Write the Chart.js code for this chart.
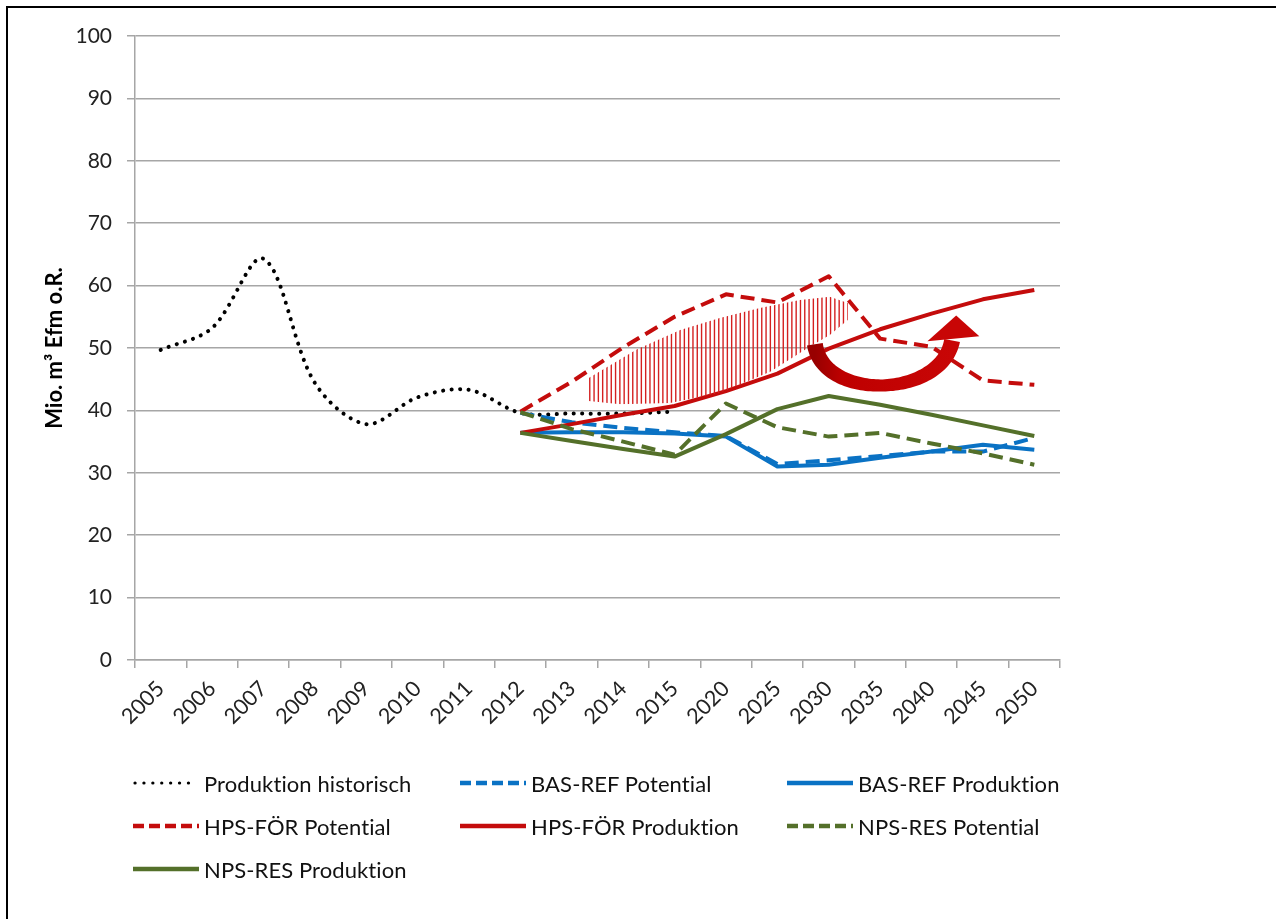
<!DOCTYPE html>
<html>
<head>
<meta charset="utf-8">
<script src="https://cdn.jsdelivr.net/npm/chart.js@4.4.1/dist/chart.umd.min.js"></script>
<style>
  html, body { margin: 0; padding: 0; background: #ffffff; }
  #wrap { position: relative; width: 1276px; height: 919px; overflow: hidden; background: #fff; }
  #frame { position: absolute; left: 6px; top: 6px; width: 1400px; height: 1000px;
           border-left: 2px solid #000; border-top: 2px solid #000; box-sizing: border-box; pointer-events: none; }
  #chart { position: absolute; left: 0; top: 0; }
  .leg { position: absolute; display: flex; align-items: center; height: 30px; margin-top: -15px;
         font-family: Lato, "Open Sans", sans-serif; font-size: 22px; letter-spacing: 0.1px; color: #111; white-space: nowrap; }
  .leg svg { margin-right: 5px; }
</style>
</head>
<body>
<div id="wrap">
  <canvas id="chart" width="1276" height="919"></canvas>
  <div id="frame"></div>
  <div id="legend"></div>
</div>
<script>
// ---------- data ----------
const categories = ['2005','2006','2007','2008','2009','2010','2011','2012','2013','2014','2015','2020','2025','2030','2035','2040','2045','2050'];
const produktionHistorisch = [49.7, 53.2, 64.3, 44.4, 37.8, 42.1, 43.3, 39.6, 39.5, 39.5, 39.8, null, null, null, null, null, null, null];
const basRefPotential  = [null, null, null, null, null, null, null, 39.6, 38.1, 37.2, 36.5, 35.9, 31.4, 32.0, 32.7, 33.4, 33.4, 35.6];
const basRefProduktion = [null, null, null, null, null, null, null, 36.4, 36.5, 36.5, 36.3, 35.8, 31.0, 31.3, 32.4, 33.4, 34.5, 33.7];
const hpsFoerPotential  = [null, null, null, null, null, null, null, 39.8, 44.6, 50.1, 55.0, 58.6, 57.3, 61.5, 51.5, 50.2, 44.8, 44.1];
const hpsFoerProduktion = [null, null, null, null, null, null, null, 36.4, 37.8, 39.3, 40.7, 43.1, 45.9, 49.9, 53.0, 55.5, 57.8, 59.3];
const npsResPotential  = [null, null, null, null, null, null, null, 39.7, 37.0, 35.0, 32.9, 41.1, 37.3, 35.8, 36.4, 34.7, 33.1, 31.3];
const npsResProduktion = [null, null, null, null, null, null, null, 36.4, 35.1, 33.8, 32.6, 36.2, 40.2, 42.3, 40.9, 39.3, 37.6, 35.9];
const yTicks = [0, 10, 20, 30, 40, 50, 60, 70, 80, 90, 100];
const yTitle = 'Mio. m³ Efm o.R.';

// annotation shapes in data units [category index, value]
const hatchPolygon = [[8.33,45.2],[9.27,49.8],[10.11,52.9],[10.88,54.8],[11.66,56.4],[12.44,57.7],[13.02,58.2],[13.37,57.2],
                      [13.37,54.5],[13.02,52.1],[12.63,50.2],[11.86,46.2],[10.88,42.8],[9.91,41.2],[8.94,41.0],[8.33,41.5]];
const arrowCurve = [[12.73,50.6],[12.90,41.4],[15.20,42.0],[15.40,51.2]];
const arrowHead = [[15.48,55.2],[14.92,51.1],[15.93,51.9]];
const arrowWidth = [16, 12, 16];   // px at tail, middle, head end

// ---------- styles ----------
const RED = '#C40C0C', BLUE = '#0A72C4', GREEN = '#54702A', BLACK = '#000000';
const FONT = 'Lato, "Open Sans", sans-serif';

const seriesDefs = [
  { label: 'Produktion historisch', data: produktionHistorisch, color: BLACK, dash: [0.1, 8.4], cap: 'round', width: 4, tension: 0.33 },
  { label: 'BAS-REF Potential',  data: basRefPotential,  color: BLUE,  dash: [14, 7], cap: 'butt', width: 4, tension: 0 },
  { label: 'BAS-REF Produktion', data: basRefProduktion, color: BLUE,  dash: [],      cap: 'butt', width: 4, tension: 0 },
  { label: 'HPS-FÖR Potential',  data: hpsFoerPotential,  color: RED,   dash: [14, 7], cap: 'butt', width: 4, tension: 0 },
  { label: 'HPS-FÖR Produktion', data: hpsFoerProduktion, color: RED,   dash: [],      cap: 'butt', width: 4, tension: 0 },
  { label: 'NPS-RES Potential',  data: npsResPotential,  color: GREEN, dash: [14, 7], cap: 'butt', width: 4, tension: 0 },
  { label: 'NPS-RES Produktion', data: npsResProduktion, color: GREEN, dash: [],      cap: 'butt', width: 4, tension: 0 }
];

const datasets = seriesDefs.map((s, i) => ({
  label: s.label, data: s.data,
  borderColor: s.color, backgroundColor: s.color,
  borderWidth: s.width, borderDash: s.dash, borderCapStyle: s.cap, borderJoinStyle: 'round',
  tension: s.tension, pointRadius: 0, pointHoverRadius: 0, fill: false, spanGaps: false,
  order: seriesDefs.length - i
}));

// ---------- annotation plugin ----------
const annotationPlugin = {
  id: 'shapes',
  afterDatasetsDraw(chart) {
    const ctx = chart.ctx, xs = chart.scales.x, ys = chart.scales.y;
    const P = p => [xs.getPixelForValue(p[0]), ys.getPixelForValue(p[1])];
    // hatched area
    const poly = hatchPolygon.map(P);
    let minX = Infinity, maxX = -Infinity, minY = Infinity, maxY = -Infinity;
    poly.forEach(([x, y]) => { minX = Math.min(minX, x); maxX = Math.max(maxX, x); minY = Math.min(minY, y); maxY = Math.max(maxY, y); });
    ctx.save();
    ctx.beginPath();
    poly.forEach(([x, y], i) => i ? ctx.lineTo(x, y) : ctx.moveTo(x, y));
    ctx.closePath();
    ctx.clip();
    ctx.strokeStyle = '#D42020';
    ctx.lineWidth = 1.4;
    ctx.beginPath();
    for (let x = minX + 1; x <= maxX; x += 4.3) { ctx.moveTo(x, minY); ctx.lineTo(x, maxY); }
    ctx.stroke();
    ctx.restore();

    // curved arrow with varying body width
    const c = arrowCurve.map(P);
    const bez = (t) => {
      const u = 1 - t;
      return [u*u*u*c[0][0] + 3*u*u*t*c[1][0] + 3*u*t*t*c[2][0] + t*t*t*c[3][0],
              u*u*u*c[0][1] + 3*u*u*t*c[1][1] + 3*u*t*t*c[2][1] + t*t*t*c[3][1]];
    };
    const N = 80, left = [], right = [];
    for (let k = 0; k <= N; k++) {
      const t = k / N;
      const a = bez(Math.max(0, t - 0.005)), b = bez(Math.min(1, t + 0.005));
      let dx = b[0] - a[0], dy = b[1] - a[1];
      const len = Math.hypot(dx, dy) || 1; dx /= len; dy /= len;
      const w = (t < 0.5 ? arrowWidth[0] + (arrowWidth[1] - arrowWidth[0]) * t * 2
                         : arrowWidth[1] + (arrowWidth[2] - arrowWidth[1]) * (t - 0.5) * 2) / 2;
      const p = bez(t);
      left.push([p[0] - dy * w, p[1] + dx * w]);
      right.push([p[0] + dy * w, p[1] - dx * w]);
    }
    ctx.save();
    const g = ctx.createLinearGradient(c[0][0], 0, c[3][0], 0);
    g.addColorStop(0, '#980000'); g.addColorStop(0.2, '#BE0000'); g.addColorStop(1, '#C80606');
    ctx.fillStyle = g;
    ctx.beginPath();
    left.forEach(([x, y], i) => i ? ctx.lineTo(x, y) : ctx.moveTo(x, y));
    for (let k = right.length - 1; k >= 0; k--) ctx.lineTo(right[k][0], right[k][1]);
    ctx.closePath();
    ctx.fill();
    const h = arrowHead.map(P);
    ctx.fillStyle = '#C80606';
    ctx.beginPath();
    ctx.moveTo(h[0][0], h[0][1]); ctx.lineTo(h[1][0], h[1][1]); ctx.lineTo(h[2][0], h[2][1]);
    ctx.closePath();
    ctx.fill();
    ctx.restore();
  }
};

const whiteBg = {
  id: 'whiteBg',
  beforeDraw(chart) { const c = chart.ctx; c.save(); c.fillStyle = '#fff'; c.fillRect(0, 0, chart.width, chart.height); c.restore(); }
};

new Chart(document.getElementById('chart'), {
  type: 'line',
  data: { labels: categories, datasets },
  options: {
    responsive: false, animation: false, devicePixelRatio: 1,
    layout: { padding: { left: 0, top: 36, right: 216, bottom: 0 } },
    plugins: { legend: { display: false }, tooltip: { enabled: false } },
    scales: {
      x: {
        offset: true,
        grid: { display: true, drawOnChartArea: false, drawTicks: true, tickLength: 8, offset: true, color: '#A6A6A6', lineWidth: 1.5 },
        border: { display: true, color: '#A6A6A6', width: 1.5 },
        ticks: { autoSkip: false, maxRotation: 45, minRotation: 45, padding: 8, color: '#222', font: { family: FONT, size: 21.5 } },
        afterFit(s) { s.height = 919 - 660; }
      },
      y: {
        min: 0, max: 100,
        afterBuildTicks(s) { s.ticks = yTicks.map(v => ({ value: v })); },
        grid: { color: '#A6A6A6', lineWidth: 1.5, tickLength: 8 },
        border: { display: true, color: '#A6A6A6', width: 1.5 },
        ticks: { padding: 15, color: '#222', font: { family: FONT, size: 21 } },
        title: { display: true, text: yTitle, color: '#000', font: { family: FONT, size: 22, weight: 'bold' }, padding: { top: 42, bottom: 0 } },
        afterFit(s) { s.width = 135; }
      }
    }
  },
  plugins: [whiteBg, annotationPlugin]
});

// ---------- HTML legend ----------
const legendPos = [[133, 783], [460, 783], [787, 783], [133, 826], [460, 826], [787, 826], [133, 869]];
const legend = document.getElementById('legend');
seriesDefs.forEach((s, i) => {
  const [x, y] = legendPos[i];
  const div = document.createElement('div');
  div.className = 'leg';
  div.style.left = x + 'px';
  div.style.top = y + 'px';
  const dotted = s.cap === 'round';
  const dash = dotted ? '0.1 8.8' : (s.dash.length ? '11 5' : '');
  const svg = `<svg width="66" height="12" viewBox="0 0 66 12"><line x1="${dotted ? 2 : 0}" y1="6" x2="${dotted ? 64 : 66}" y2="6" stroke="${s.color}" stroke-width="${dotted ? 3.2 : 4.5}" stroke-linecap="${dotted ? 'round' : 'butt'}" ${dash ? `stroke-dasharray="${dash}"` : ''}/></svg>`;
  div.innerHTML = svg + '<span>' + s.label + '</span>';
  legend.appendChild(div);
});
</script>
</body>
</html>
